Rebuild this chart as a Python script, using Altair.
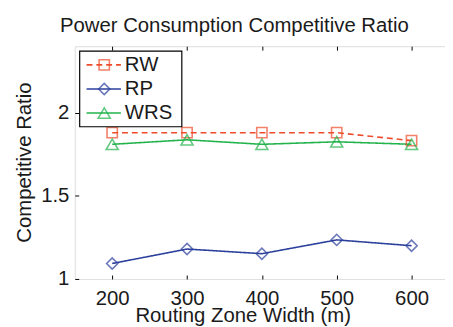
import altair as alt
import pandas as pd

# ---- data ----
widths = [200, 300, 400, 500, 600]
series = ["RW", "RP", "WRS"]
rw_vals = [1.88, 1.88, 1.88, 1.88, 1.832]
rp_vals = [1.093, 1.18, 1.152, 1.235, 1.20]
wrs_vals = [1.81, 1.837, 1.81, 1.825, 1.81]
x_ticks = [200, 300, 400, 500, 600]
y_ticks = [1, 1.5, 2]

colors = ["#ee4b2b", "#2b3f9c", "#22b34b"]
shapes = ["square", "diamond", "triangle-up"]
sizes = [110, 150, 270]
dashes = [[6, 4], [1, 0], [1, 0]]

rows = []
for name, vals in zip(series, [rw_vals, rp_vals, wrs_vals]):
    for w, v in zip(widths, vals):
        rows.append({"width": w, "ratio": v, "series": name})
df = pd.DataFrame(rows)
leg = pd.DataFrame({"series": series})

W, H = 377, 237
FONT = "Liberation Sans"
FS = 20.7
TXT = "#1a1a1a"

xscale = alt.Scale(domain=[150, 644.7], nice=False, zero=False)
yscale = alt.Scale(domain=[1, 2.4], nice=False, zero=False)
col = alt.Color("series:N", scale=alt.Scale(domain=series, range=colors), legend=None)
shp = alt.Shape("series:N", scale=alt.Scale(domain=series, range=shapes), legend=None)
siz = alt.Size("series:N", scale=alt.Scale(domain=series, range=sizes), legend=None)
dsh = alt.StrokeDash("series:N", scale=alt.Scale(domain=series, range=dashes), legend=None)

base = alt.Chart(df)

lines = base.mark_line(strokeWidth=1.6).encode(
    x=alt.X("width:Q", scale=xscale,
            axis=alt.Axis(orient="bottom", values=x_ticks, ticks=False, tickSize=0,
                          domain=False, grid=False, labelFontSize=FS, labelPadding=10,
                          labelFont=FONT, labelColor=TXT,
                          title="Routing Zone Width (m)", titleFontSize=FS,
                          titleFont=FONT, titleFontWeight="normal", titleColor=TXT,
                          titleX=171, titleY=43, titleBaseline="alphabetic")),
    y=alt.Y("ratio:Q", scale=yscale,
            axis=alt.Axis(orient="left", values=y_ticks, ticks=False, tickSize=0,
                          domain=False, grid=False, labelFontSize=FS, labelPadding=6,
                          labelFont=FONT, labelColor=TXT, format="~g",
                          title="Competitive Ratio", titleFontSize=FS, titleFont=FONT,
                          titleFontWeight="normal", titleColor=TXT,
                          titleX=-45, titleY=118, titleAngle=-90,
                          titleBaseline="alphabetic", titleAlign="center")),
    color=col,
    strokeDash=dsh,
)

points = base.mark_point(filled=False, strokeWidth=1.6).encode(
    x=alt.X("width:Q", scale=xscale,
            axis=alt.Axis(orient="top", offset=-H, values=x_ticks, labels=False,
                          domain=False, grid=False, ticks=True, tickSize=4,
                          tickColor="black", title=None)),
    y=alt.Y("ratio:Q", scale=yscale,
            axis=alt.Axis(orient="right", offset=-W, values=y_ticks, labels=False,
                          domain=False, grid=False, ticks=True, tickSize=4,
                          tickColor="black", title=None)),
    color=col,
    shape=shp,
    size=siz,
)

topticks = base.mark_point(opacity=0).encode(
    x=alt.X("width:Q", scale=xscale,
            axis=alt.Axis(orient="bottom", offset=-H, values=x_ticks, labels=False,
                          domain=False, grid=False, ticks=True, tickSize=4,
                          tickColor="black", title=None)),
    y=alt.Y("ratio:Q", scale=yscale, axis=None),
)

main = alt.layer(lines, points, topticks).resolve_axis(x="independent", y="independent")

# ---- legend ----
ly = alt.Y("series:N", scale=alt.Scale(type="point", domain=series, range=[19, 68], padding=0),
           axis=None)
box = alt.Chart(pd.DataFrame({"k": [0]})).mark_rect(
    fill="white", stroke="black", strokeWidth=1.2
).encode(x=alt.value(5), x2=alt.value(109), y=alt.value(5), y2=alt.value(82))
lrule = alt.Chart(leg).mark_rule(strokeWidth=1.6).encode(
    x=alt.value(12), x2=alt.value(47), y=ly, color=col, strokeDash=dsh)
lpt = alt.Chart(leg).mark_point(filled=False, strokeWidth=1.6).encode(
    x=alt.value(30), y=ly, color=col, shape=shp, size=siz)
ltxt = alt.Chart(leg).mark_text(align="left", baseline="middle", fontSize=FS,
                                font=FONT, color=TXT).encode(
    x=alt.value(51), y=ly, text="series:N")
legend = alt.layer(box, lrule, lpt, ltxt)

chart = alt.layer(main, legend).resolve_scale(y="independent").properties(
    width=W, height=H,
    title=alt.TitleParams("Power Consumption Competitive Ratio", fontSize=FS,
                          font=FONT, fontWeight="normal", color=TXT,
                          anchor="middle", dx=-26, offset=9),
    autosize=alt.AutoSizeParams(type="none"),
    padding={"left": 68, "top": 36, "right": 0, "bottom": 46},
).configure_view(stroke="black", strokeWidth=1.2).configure(background="white")

chart.save("out.html", embed_options={"renderer": "svg", "actions": False})
